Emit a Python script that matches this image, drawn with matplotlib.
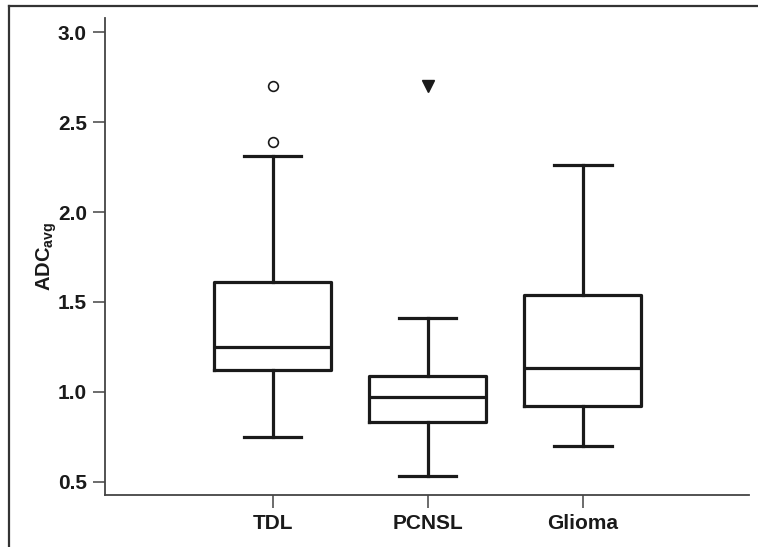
#!/usr/bin/env python3
"""Box plot of ADC_avg for TDL, PCNSL and Glioma."""

import matplotlib
matplotlib.use('Agg')
import matplotlib.pyplot as plt
from matplotlib.lines import Line2D

plt.rcParams['font.family'] = ['Liberation Sans', 'DejaVu Sans']
plt.rcParams['font.weight'] = 'bold'
plt.rcParams['mathtext.fontset'] = 'custom'
plt.rcParams['mathtext.rm'] = 'Liberation Sans:bold'
plt.rcParams['mathtext.bf'] = 'Liberation Sans:bold'

# Values
groups = ['TDL', 'PCNSL', 'Glioma']
whislo = [0.75, 0.53, 0.70]
q1 = [1.12, 0.83, 0.92]
med = [1.25, 0.97, 1.13]
q3 = [1.61, 1.09, 1.54]
whishi = [2.31, 1.41, 2.26]
circle_outliers = [[2.39, 2.70], [], []]
extreme_outliers = [[], [2.70], []]

positions = [1, 2, 3]
ink = '#1a1a1a'

fig = plt.figure(figsize=(7.58, 5.47), dpi=100)
ax = fig.add_axes([0.1385, 0.095, 0.8495, 0.872])

stats = []
for i, g in enumerate(groups):
    stats.append(dict(label=g, whislo=whislo[i], q1=q1[i], med=med[i],
                      q3=q3[i], whishi=whishi[i], fliers=circle_outliers[i]))

props = dict(color=ink, linewidth=2.3)
ax.bxp(stats, positions=positions, widths=0.755, capwidths=0.37,
       boxprops=props, whiskerprops=props, capprops=props, medianprops=props,
       flierprops=dict(marker='o', markersize=7, markerfacecolor='white',
                       markeredgecolor=ink, markeredgewidth=1.2))

# extreme values drawn as filled triangles
for p, vals in zip(positions, extreme_outliers):
    if vals:
        ax.plot([p] * len(vals), vals, linestyle='none', marker='v',
                markersize=9, color=ink)

ax.set_xlim(-0.08, 4.07)
ax.set_ylim(0.426, 3.079)
ax.set_yticks([0.5, 1.0, 1.5, 2.0, 2.5, 3.0])
ax.set_yticklabels(['0.5', '1.0', '1.5', '2.0', '2.5', '3.0'])
ax.set_xticks(positions)
ax.set_xticklabels(groups)

for side in ['top', 'right']:
    ax.spines[side].set_visible(False)
for side in ['left', 'bottom']:
    ax.spines[side].set_color('#444444')
    ax.spines[side].set_linewidth(1.3)

ax.tick_params(axis='both', direction='out', length=9, width=1.1,
               color='#444444', labelsize=15, labelcolor=ink)
ax.tick_params(axis='y', pad=4)
ax.tick_params(axis='x', pad=5)

ax.set_ylabel(r'ADC$_{\mathrm{avg}}$', fontsize=14.5, fontweight='bold', color=ink)
ax.yaxis.set_label_coords(-0.072, 0.5)

# frame lines along top and left of figure
fig.add_artist(Line2D([9 / 758, 1.0], [1 - 6 / 547, 1 - 6 / 547],
                      transform=fig.transFigure, color='#333333', linewidth=1.6))
fig.add_artist(Line2D([9 / 758, 9 / 758], [0.0, 1 - 6 / 547],
                      transform=fig.transFigure, color='#333333', linewidth=1.6))

fig.savefig('out.png', dpi=100)
